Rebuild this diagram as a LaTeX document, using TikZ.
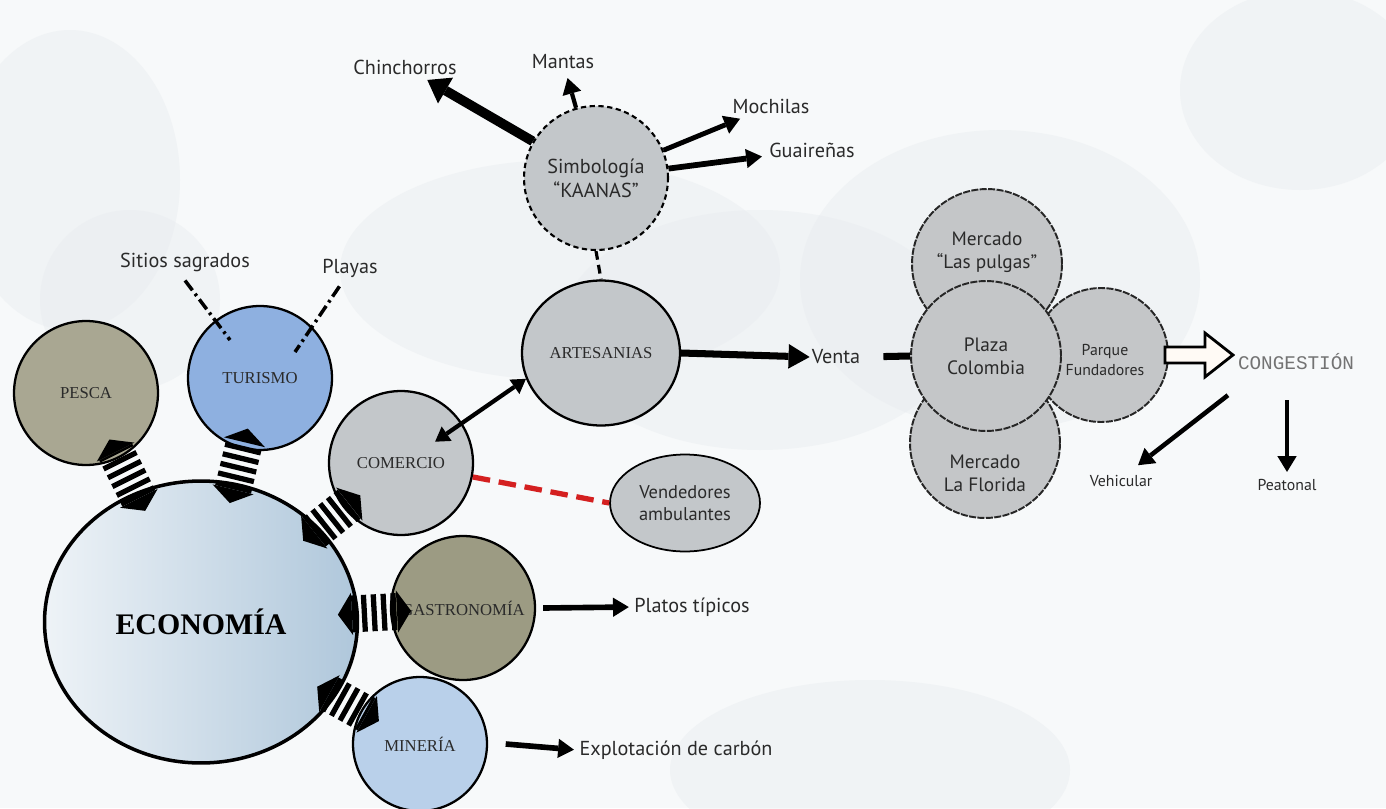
\documentclass[tikz,border=0pt]{standalone}
\usepackage{fontspec}
\setmainfont{Liberation Serif}
\newfontfamily\sanslbl{PT Sans}
\newfontfamily\monolbl{Liberation Mono}
\usetikzlibrary{positioning,arrows.meta,shapes.geometric,calc}
\definecolor{bgbase}{HTML}{F7F9FA}
\definecolor{cloudgray}{HTML}{E6EAEE}
\definecolor{olivep}{HTML}{A9A792}
\definecolor{oliveg}{HTML}{9C9B83}
\definecolor{turblue}{HTML}{8EB0E0}
\definecolor{minblue}{HTML}{B9D0EA}
\definecolor{grayb}{HTML}{C3C7CA}
\definecolor{mktgray}{HTML}{C4C6C8}
\definecolor{econL}{HTML}{EEF3F7}
\definecolor{econR}{HTML}{AFC7DB}
\definecolor{reddash}{HTML}{D42020}
\definecolor{inkgray}{HTML}{2A2A2A}

\begin{document}
\begin{tikzpicture}[x=0.02cm, y=-0.02cm,
  bub/.style={circle, draw=black, line width=1.3pt, inner sep=0pt, align=center,
    text=inkgray, font=\fontsize{9.5}{11}\selectfont, minimum size=2.88cm},
  mkt/.style={circle, draw=black!85, line width=1.1pt, dash pattern=on 4pt off 0.8pt,
    fill=mktgray, inner sep=0pt, minimum size=3cm},
  mkttxt/.style={align=center, text=inkgray, inner sep=0pt,
    font=\sanslbl\fontsize{11}{13}\selectfont},
  txt/.style={font=\sanslbl\fontsize{11.5}{13}\selectfont, inner sep=1pt, text=inkgray},
  txtsm/.style={font=\sanslbl\fontsize{9}{11}\selectfont, inner sep=1pt, text=inkgray},
  band/.style={line width=21pt, dash pattern=on 3pt off 2.6pt,
    {Triangle[length=8pt,width=24pt,line width=0pt]}-{Triangle[length=8pt,width=24pt,line width=0pt]},
    shorten <=-12pt, shorten >=-12pt},
  arr/.style={-{Triangle[length=9pt,width=11pt,line width=0pt]}, line width=2.8pt},
  arrbig/.style={-{Triangle[length=12pt,width=17pt,line width=0pt]}, line width=5.5pt},
  dbl/.style={{Triangle[length=8pt,width=10pt,line width=0pt]}-{Triangle[length=8pt,width=10pt,line width=0pt]}, line width=2.4pt},
  ddot/.style={line width=2pt, dash pattern=on 7pt off 2.5pt on 1.5pt off 2.5pt},
  ]
  \useasboundingbox (0,0) rectangle (1386,808);
  \clip (0,0) rectangle (1386,808);

  % background with pale clouds
  \fill[bgbase] (0,0) rectangle (1386,808);
  \begin{scope}[fill=cloudgray, opacity=0.4]
    \fill (70,180) ellipse [x radius=110, y radius=150];
    \fill (130,300) ellipse [x radius=90, y radius=90];
    \fill (560,270) ellipse [x radius=220, y radius=110];
    \fill (760,330) ellipse [x radius=200, y radius=120];
    \fill (1000,280) ellipse [x radius=200, y radius=150];
    \fill (1300,90) ellipse [x radius=120, y radius=100];
    \fill (870,770) ellipse [x radius=200, y radius=90];
  \end{scope}

  % main bubbles
  \node[bub, ellipse, minimum width=6.26cm, minimum height=5.64cm, left color=econL,
    right color=econR, line width=2pt, text=black,
    font=\bfseries\fontsize{17}{20}\selectfont] (econ) at (201,622) {ECONOMÍA};
  \node[bub, fill=olivep] (pes) at (86,393) {PESCA};
  \node[bub, fill=turblue] (tur) at (260,378) {TURISMO};
  \node[bub, fill=grayb] (com) at (401,463) {COMERCIO};
  \node[bub, fill=oliveg] (gas) at (463,608) {GASTRONOMÍA};
  \node[bub, fill=minblue, minimum size=2.68cm] (min) at (420,744) {MINERÍA};
  \node[bub, ellipse, fill=grayb, minimum width=3.16cm, minimum height=2.9cm] (art) at (601,353) {ARTESANIAS};
  \node[bub, fill=grayb, line width=1.2pt, dash pattern=on 3pt off 2pt,
    font=\sanslbl\fontsize{11.5}{13.5}\selectfont] (simb) at (596,178) {Simbología\\“KAANAS”};
  \node[bub, ellipse, fill=grayb, line width=1pt, minimum width=3cm, minimum height=1.94cm,
    font=\sanslbl\fontsize{10.5}{12.5}\selectfont] (vend) at (685,503) {Vendedores\\ambulantes};

  % markets cluster
  \node[mkt] (lpul) at (987,264) {};
  \node[mkt] (flor) at (985,443) {};
  \node[mkt, minimum size=2.68cm] (parq) at (1101,355) {};
  \node[mkt] (plaza) at (986,356) {};
  \node[mkttxt] (lpultxt) at ($(lpul)+(0,-12)$) {Mercado\\“Las pulgas”};
  \node[mkttxt] (flortxt) at ($(flor)+(0,30)$) {Mercado\\La Florida};
  \node[mkttxt, font=\sanslbl\fontsize{9}{11}\selectfont] (parqtxt) at ($(parq)+(4,5)$) {Parque\\Fundadores};
  \node[mkttxt] (plazatxt) at (plaza) {Plaza\\Colombia};

  % labels
  \node[txt] (chin) at (405,67) {Chinchorros};
  \node[txt] (mant) at (563,62) {Mantas};
  \node[txt] (moch) at (771,106) {Mochilas};
  \node[txt] (guai) at (812,150) {Guaireñas};
  \node[txt] (sit) at (185,262) {Sitios sagrados};
  \node[txt] (pla) at (350,268) {Playas};
  \node[txt] (venta) at (836,357) {Venta};
  \node[txt] (plat) at (692,607) {Platos típicos};
  \node[txt] (carb) at (676,750) {Explotación de carbón};
  \node[txtsm] (veh) at (1121,481) {Vehicular};
  \node[txtsm] (peat) at (1287,485) {Peatonal};
  \node[font=\monolbl\fontsize{11}{12}\selectfont, text=black!55, inner sep=1pt] (cong) at (1296,362) {CONGESTIÓN};

  % striped links to the economy
  \draw[band] (econ) -- (pes);
  \draw[band] (econ) -- (tur);
  \draw[band] (econ) -- (com);
  \draw[band] (econ) -- (gas);
  \draw[band] (econ) -- (min);

  % tourism points
  \coordinate (tsit) at ($(tur.center)+(-30,-38)$);
  \coordinate (tpla) at ($(tur.center)+(35,-26)$);
  \draw[ddot] ([yshift=-4pt]sit.south) -- (tsit);
  \draw[ddot] ([xshift=-6pt,yshift=-4pt]pla.south) -- (tpla);

  % crafts
  \draw[arrbig, shorten >=4pt] (simb) -- (chin);
  \draw[arr, line width=2.4pt, shorten >=4pt] (simb) -- (mant);
  \draw[arr, shorten >=5pt] (simb) -- (moch);
  \draw[arr, line width=3.3pt, shorten >=3pt] (simb) -- (guai);
  \draw[line width=1.8pt, dash pattern=on 5pt off 3pt] (simb.south) -- (art.north);
  \draw[dbl] ($(com.center)!0.55!(com.32)$) -- (art.199);
  \draw[reddash, line width=3pt, dash pattern=on 10pt off 5pt] (com.-11) -- (vend.west);

  \draw[-{Triangle[length=12pt,width=14pt,line width=0pt]}, line width=4pt] (art.east) -- (venta.west);
  \draw[line width=4pt, shorten <=12pt] (venta.east) -- (plaza.west);

  % congestion
  \coordinate (ha) at ($(parq.east)+(-4,0)$);
  \draw[line width=1.6pt, fill=orange!4] ($(ha)+(0,-8)$) -- ++(40,0) -- ++(0,-14) -- ++(28,22)
    -- ++(-28,22) -- ++(0,-14) -- ++(-40,0) -- cycle;
  \draw[arr, line width=2.6pt] ($(cong.south west)+(-8,23)$) -- ($(veh.north)+(17,-8)$);
  \draw[arr, line width=2.6pt] ($(cong.south)+(-9,28)$) -- ([yshift=3pt]peat.north);

  % outputs
  \draw[arr, line width=3.2pt, shorten >=2pt] ([xshift=4pt]gas.east) -- (plat.west);
  \draw[arr, line width=3.2pt, shorten >=2pt] ([xshift=10pt]min.east) -- (carb.west);
\end{tikzpicture}
\end{document}
